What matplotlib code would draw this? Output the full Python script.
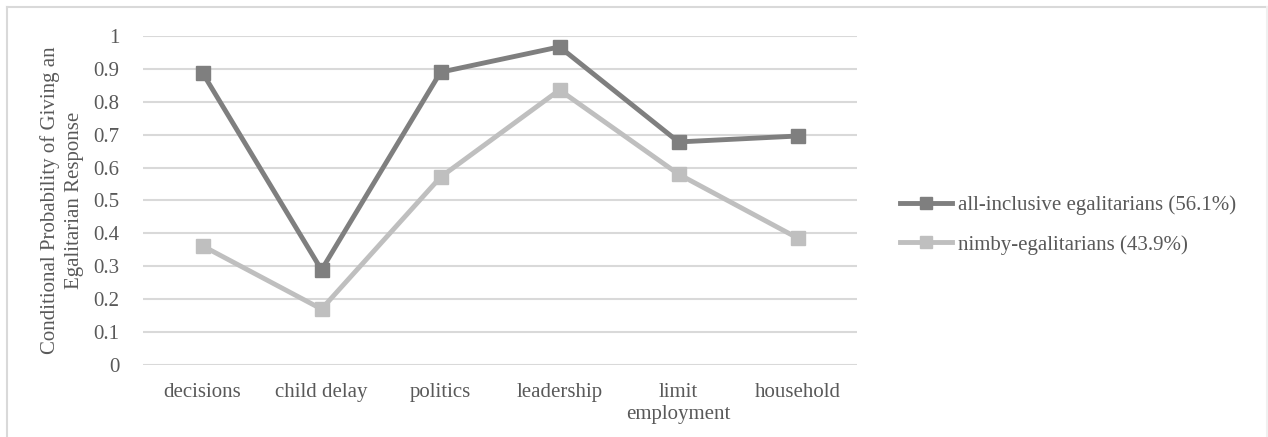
import numpy as np
import matplotlib.pyplot as plt
from matplotlib.lines import Line2D

# Dados
categorias = ["decisions", "child delay", "politics", "leadership", "limit\nemployment", "household"]
todos_inclusivos = [0.888, 0.289, 0.890, 0.967, 0.678, 0.696]
nimby = [0.362, 0.170, 0.571, 0.836, 0.580, 0.386]
nomes_series = ["all-inclusive egalitarians (56.1%)", "nimby-egalitarians (43.9%)"]
eixo_valores = np.arange(0, 1.01, 0.1)
rotulos_y = ["0"] + ["%.1f" % v for v in eixo_valores[1:-1]] + ["1"]

plt.rcParams['font.family'] = ['Liberation Serif', 'DejaVu Serif']
cor_texto = "#595959"
tam = 15

fig = plt.figure(figsize=(12.68, 4.37), dpi=100)
ax = fig.add_axes([0.1128, 0.1648, 0.5631, 0.7528])

x = np.arange(len(categorias))
ax.plot(x, todos_inclusivos, color="#7f7f7f", linewidth=3.5, marker="s", markersize=10,
        label=nomes_series[0], zorder=3)
ax.plot(x, nimby, color="#bfbfbf", linewidth=3.5, marker="s", markersize=10,
        label=nomes_series[1], zorder=3)

ax.set_xlim(-0.5, len(categorias) - 0.5)
ax.set_ylim(0, 1)
ax.set_xticks(x)
ax.set_xticklabels(categorias, fontsize=tam, color=cor_texto, linespacing=1.2)
ax.set_yticks(eixo_valores)
ax.set_yticklabels(rotulos_y, fontsize=tam, color=cor_texto)
ax.tick_params(axis="y", length=0, pad=17)
ax.tick_params(axis="x", length=0, pad=13)

ax.grid(axis="y", color="#d9d9d9", linewidth=1.5)
ax.set_axisbelow(True)
for s in ax.spines.values():
    s.set_visible(False)

ax.set_ylabel("Conditional Probability of Giving an\nEgalitarian Response",
              fontsize=tam, color=cor_texto, linespacing=1.3, labelpad=7)

leg = fig.legend(loc="center left", bbox_to_anchor=(0.7098, 0.485), frameon=False,
                 fontsize=tam, handlelength=2.5, handletextpad=0.3, labelspacing=0.95,
                 borderpad=0, borderaxespad=0, markerscale=0.8)
for t in leg.get_texts():
    t.set_color(cor_texto)

# Borda da figura (superior e esquerda visíveis, direita bem clara)
W, H = 1268, 437
fig.lines.append(Line2D([6.5 / W, 1267 / W], [1 - 6.5 / H, 1 - 6.5 / H],
                        transform=fig.transFigure, color="#d9d9d9", linewidth=1.5))
fig.lines.append(Line2D([6.5 / W, 6.5 / W], [0, 1 - 6.5 / H],
                        transform=fig.transFigure, color="#d9d9d9", linewidth=1.5))
fig.lines.append(Line2D([1267 / W, 1267 / W], [0, 1 - 6.5 / H],
                        transform=fig.transFigure, color="#f0f0f0", linewidth=1.5))

plt.savefig("out.png", dpi=100)
